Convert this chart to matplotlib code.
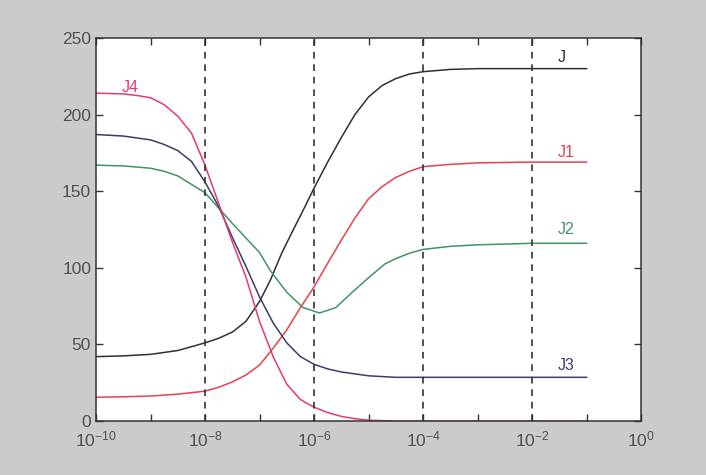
import numpy as np
import matplotlib
matplotlib.use('Agg')
import matplotlib.pyplot as plt
from matplotlib.ticker import FixedLocator, FuncFormatter

plt.rcParams['font.family'] = ['Liberation Sans', 'DejaVu Sans']
plt.rcParams['mathtext.fontset'] = 'custom'
plt.rcParams['mathtext.rm'] = 'Liberation Sans'
plt.rcParams['mathtext.it'] = 'Liberation Sans'

# Curves: x as powers of ten, y values
exp_J = [-10, -9.5, -9, -8.5, -8, -7.75, -7.5, -7.25, -7, -6.8, -6.6, -6.4, -6.2, -6, -5.75, -5.5,
         -5.25, -5, -4.75, -4.5, -4.25, -4, -3.5, -3, -2, -1]
val_J = [42, 42.5, 43.5, 46, 51, 54, 58, 65, 78, 92, 109, 123.5, 137.5, 152, 169, 185,
         200, 211.5, 219, 223.5, 226.5, 228, 229.5, 230, 230, 230]

exp_J1 = [-10, -9.5, -9, -8.5, -8, -7.75, -7.5, -7.25, -7, -6.75, -6.5, -6.25, -6, -5.75, -5.5,
          -5.25, -5, -4.75, -4.5, -4.25, -4, -3.5, -3, -2, -1]
val_J1 = [15.5, 15.8, 16.3, 17.5, 19.5, 22, 25.5, 30, 36.5, 47.5, 59.5, 74, 87.5, 103, 118,
          132.5, 145, 153, 159, 163, 166, 167.5, 168.5, 169, 169]

exp_J2 = [-10, -9.5, -9, -8.75, -8.5, -8.25, -8, -7.75, -7.5, -7.25, -7, -6.8, -6.5, -6.2, -5.9,
          -5.6, -5.3, -5, -4.7, -4.5, -4.25, -4, -3.5, -3, -2, -1]
val_J2 = [167, 166.5, 165, 163, 160, 154.5, 149, 139, 129, 119.5, 110, 98, 84, 74, 70.5,
          74, 84, 93.5, 102.5, 106, 109.5, 112, 114, 115, 116, 116]

exp_J3 = [-10, -9.5, -9, -8.75, -8.5, -8.25, -8, -7.75, -7.5, -7.25, -7, -6.75, -6.5, -6.25, -6,
          -5.75, -5.5, -5, -4.5, -4, -3, -2, -1]
val_J3 = [187, 186, 183.5, 180.5, 176.5, 169.5, 156, 140, 120, 101, 81, 64, 51, 42, 37,
          34, 32, 29.5, 28.5, 28.5, 28.5, 28.5, 28.5]

exp_J4 = [-10, -9.5, -9.25, -9, -8.75, -8.5, -8.25, -8, -7.75, -7.5, -7.25, -7, -6.75, -6.5, -6.25,
          -6, -5.75, -5.5, -5.25, -5, -4.5, -4, -3, -2, -1]
val_J4 = [214, 213.5, 212.5, 211, 206.5, 199, 188, 167, 142, 117, 94, 65, 42, 24, 14,
          9, 5.5, 3, 1.5, 0.5, 0, 0, 0, 0, 0]

names = ['J', 'J1', 'J2', 'J3', 'J4']
colors = ['#303030', '#e8404e', '#3f9468', '#3c3c6c', '#e33a70']
# label positions (exponent, value)
label_exp = [-1.45, -1.38, -1.38, -1.38, -9.38]
label_val = [237, 175, 125, 36.5, 217.5]

dashed_exp = [-8, -6, -4, -2]

fig = plt.figure(figsize=(7.06, 4.75), dpi=100)
fig.patch.set_facecolor('#cbcbcb')
ax = fig.add_axes([0.136, 0.1137, 0.772, 0.8063])
ax.set_facecolor('white')

series = [(exp_J, val_J), (exp_J1, val_J1), (exp_J2, val_J2), (exp_J3, val_J3), (exp_J4, val_J4)]
for (e, v), c in zip(series, colors):
    ax.plot(10.0 ** np.array(e), v, color=c, lw=1.1)

for e in dashed_exp:
    ax.axvline(10.0 ** e, color='#333333', lw=1.2, ls=(0, (4, 3.5)))

for n, c, le, lv in zip(names, colors, label_exp, label_val):
    ax.text(10.0 ** le, lv, n, color=c, fontsize=11.5, ha='center', va='center')

ax.set_xscale('log')
ax.set_xlim(1e-10, 1)
ax.set_ylim(0, 250)
ax.xaxis.set_major_locator(FixedLocator([10.0 ** k for k in range(-10, 1)]))
ax.xaxis.set_minor_locator(FixedLocator([]))


def fmt(x, pos):
    k = int(round(np.log10(x)))
    if k % 2 == 0:
        return r'$10^{%d}$' % k
    return ''


ax.xaxis.set_major_formatter(FuncFormatter(fmt))
ax.set_yticks([0, 50, 100, 150, 200, 250])
ax.tick_params(direction='in', top=True, right=True, length=5, width=1,
               colors='#333333', labelcolor='#505050', labelsize=12.5)
ax.tick_params(axis='x', pad=6)
for s in ax.spines.values():
    s.set_color('#333333')
    s.set_linewidth(1.1)

fig.savefig('out.png', dpi=100, facecolor=fig.get_facecolor())
